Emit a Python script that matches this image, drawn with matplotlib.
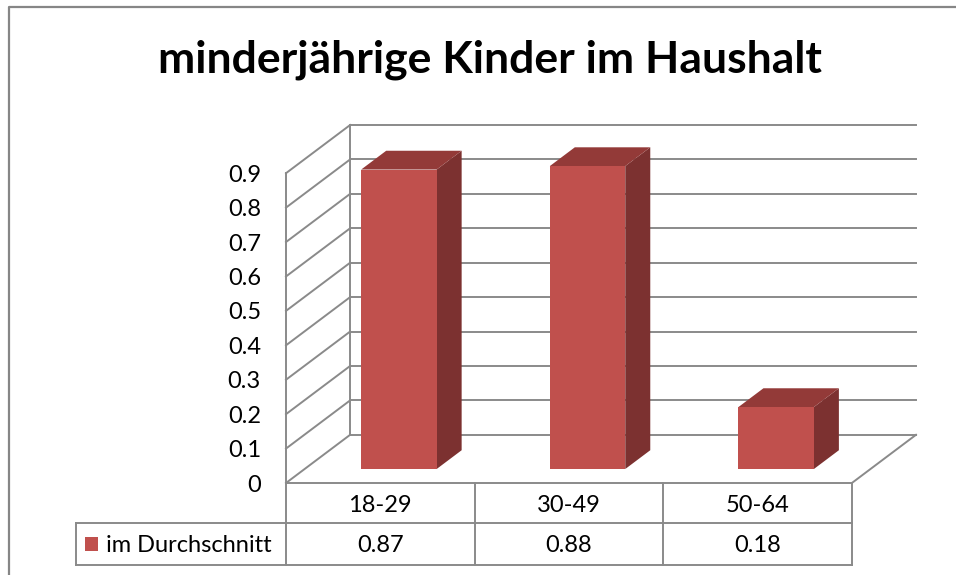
import numpy as np
import matplotlib
matplotlib.use("Agg")
import matplotlib.pyplot as plt
from matplotlib.patches import Polygon
from matplotlib.transforms import blended_transform_factory

plt.rcParams['font.family'] = ['Lato', 'DejaVu Sans']

# data
title = "minderjährige Kinder im Haushalt"
categories = ["18-29", "30-49", "50-64"]
values = [0.87, 0.88, 0.18]
series_name = "im Durchschnitt"
yticks = [0, 0.1, 0.2, 0.3, 0.4, 0.5, 0.6, 0.7, 0.8, 0.9]

grid_col = "#8a8a8a"
front_col = "#c0504d"
top_col = "#933a38"
side_col = "#7c3130"

# oblique depth offset (data units) and bar geometry
DX, DY = 0.34, 0.14
bar_w = 0.40
f0, f1 = 0.29, 0.68
ymax = yticks[-1]
n = len(categories)

fig = plt.figure(figsize=(9.56, 5.75), dpi=100)

# background overlay in pixel coords (y from top)
bg = fig.add_axes([0, 0, 1, 1])
bg.set_xlim(0, 956)
bg.set_ylim(575, 0)
bg.axis("off")
bg.plot([9, 9, 956], [575, 7, 7], color="#868686", lw=1.6)

ax = fig.add_axes([286 / 956, (575 - 483) / 575, (916 - 286) / 956, (483 - 125) / 575])
ax.set_xlim(0, n + DX)
ax.set_ylim(0, ymax + DY)
for s in ax.spines.values():
    s.set_visible(False)
ax.set_facecolor("none")
ax.set_xticks([])
ax.set_yticks(yticks)
ax.set_yticklabels([f"{t:g}" for t in yticks], fontsize=17)
ax.tick_params(axis="y", length=0, pad=18)

lk = dict(color=grid_col, lw=1.4, clip_on=False, zorder=1)
# back wall gridlines and left wall diagonals
for t in yticks:
    ax.plot([DX, n + DX], [t + DY, t + DY], **lk)
    ax.plot([0, DX], [t, t + DY], **lk)
ax.plot([0, 0], [0, ymax], **lk)
ax.plot([DX, DX], [DY, ymax + DY], **lk)
# floor
ax.plot([0, n], [0, 0], **lk)
ax.plot([n, n + DX], [0, DY], **lk)

# 3d bars
dd = f1 - f0
for i, v in enumerate(values):
    x0 = i + 0.5 - bar_w / 2 + f0 * DX
    yb = f0 * DY
    yt = yb + v
    front = [(x0, yb), (x0 + bar_w, yb), (x0 + bar_w, yt), (x0, yt)]
    top = [(x0, yt), (x0 + bar_w, yt), (x0 + bar_w + dd * DX, yt + dd * DY), (x0 + dd * DX, yt + dd * DY)]
    side = [(x0 + bar_w, yb), (x0 + bar_w + dd * DX, yb + dd * DY),
            (x0 + bar_w + dd * DX, yt + dd * DY), (x0 + bar_w, yt)]
    ax.add_patch(Polygon(side, closed=True, facecolor=side_col, edgecolor="none", zorder=3))
    ax.add_patch(Polygon(top, closed=True, facecolor=top_col, edgecolor="none", zorder=3))
    ax.add_patch(Polygon(front, closed=True, facecolor=front_col, edgecolor="none", zorder=4))

# data table below the plot (x from category axis, y in pixels)
tr = blended_transform_factory(ax.transData, bg.transData)
tk = dict(color=grid_col, lw=1.4, transform=tr, clip_on=False)
row1, row2, row3 = 483, 523, 565
for i in range(n + 1):
    bg.plot([i, i], [row1, row3], **tk)
bg.plot([0, n], [row2, row2], **tk)
bg.plot([0, n], [row3, row3], **tk)
bg.plot([76, 286], [row2, row2], color=grid_col, lw=1.4)
bg.plot([76, 286], [row3, row3], color=grid_col, lw=1.4)
bg.plot([76, 76], [row2, row3], color=grid_col, lw=1.4)
for i, (c, v) in enumerate(zip(categories, values)):
    bg.text(i + 0.5, (row1 + row2) / 2 + 2, c, transform=tr, ha="center", va="center", fontsize=17)
    bg.text(i + 0.5, (row2 + row3) / 2 + 1, f"{v:.2f}", transform=tr, ha="center", va="center", fontsize=17)
bg.add_patch(plt.Rectangle((85, 537), 13, 14, facecolor=front_col, edgecolor="none"))
bg.text(106, (row2 + row3) / 2 + 1, series_name, ha="left", va="center", fontsize=17)

fig.text(489.5 / 956, 1 - 73 / 575, title, ha="center", va="baseline", fontsize=32, fontweight="bold")

fig.savefig("out.png", dpi=100)
